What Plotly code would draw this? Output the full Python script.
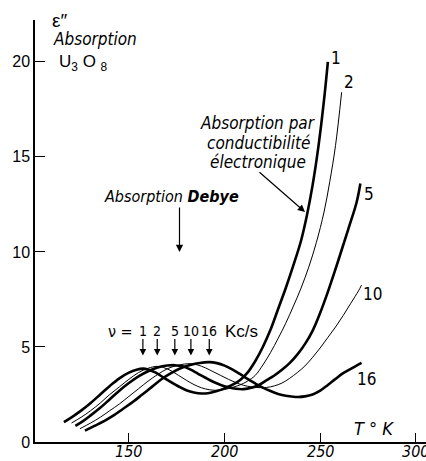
import plotly.graph_objects as go

# ---------------- data ----------------
T_1 = [116, 120, 125, 130, 135, 140, 145, 150, 154, 157.3, 160, 164, 168, 172, 176, 180, 184, 188, 192, 196,
       200, 204, 208, 212, 216, 220, 224, 228, 232, 236, 240, 243, 246, 249, 252, 254]
E_1 = [1.05, 1.3, 1.65, 2.05, 2.5, 2.95, 3.35, 3.65, 3.8, 3.86, 3.82, 3.65, 3.4, 3.15, 2.92, 2.72, 2.6, 2.55, 2.58, 2.68,
       2.82, 3.0, 3.25, 3.65, 4.25, 5.0, 5.9, 7.0, 8.1, 9.3, 10.6, 11.9, 13.5, 15.5, 18.0, 20.0]

T_2 = [120, 125, 130, 135, 140, 145, 150, 155, 160, 164.8, 168, 172, 176, 180, 184, 188, 192, 196, 200, 204,
       208, 212, 216, 220, 224, 228, 232, 236, 240, 244, 248, 252, 255, 258, 261.2]
E_2 = [1.0, 1.3, 1.65, 2.05, 2.5, 2.9, 3.3, 3.65, 3.88, 3.98, 3.92, 3.75, 3.5, 3.25, 3.02, 2.85, 2.75, 2.72, 2.76, 2.87,
       3.0, 3.2, 3.5, 4.05, 4.7, 5.45, 6.25, 7.15, 8.1, 9.2, 10.5, 12.1, 13.7, 15.6, 18.4]

T_5 = [122, 126, 130, 135, 140, 145, 150, 155, 160, 165, 170, 174, 178, 182, 186, 190, 194, 198, 202, 206,
       210, 214, 218, 222, 226, 230, 234, 238, 242, 246, 250, 254, 258, 261.2, 265, 269, 271]
E_5 = [0.85, 1.1, 1.4, 1.8, 2.25, 2.7, 3.1, 3.45, 3.72, 3.92, 4.02, 4.04, 3.98, 3.82, 3.6, 3.38, 3.17, 3.0, 2.88, 2.8,
       2.78, 2.85, 3.0, 3.25, 3.5, 3.8, 4.15, 4.6, 5.15, 5.85, 6.8, 7.9, 9.1, 10.1, 11.3, 12.6, 13.6]

T_10 = [124.4, 130, 135, 140, 145, 150, 155, 160, 165, 170, 175, 179, 182.4, 186, 190, 194, 198, 202, 206, 210,
        214, 218, 222, 226, 230, 234, 238, 242, 246, 250, 254, 258, 262, 266, 270, 271.6]
E_10 = [0.7, 1.0, 1.3, 1.65, 2.0, 2.4, 2.8, 3.2, 3.55, 3.85, 4.02, 4.1, 4.12, 4.05, 3.9, 3.7, 3.5, 3.3, 3.12, 2.98,
        2.9, 2.86, 2.87, 2.95, 3.1, 3.35, 3.65, 4.0, 4.45, 4.95, 5.5, 6.05, 6.65, 7.3, 7.95, 8.25]

T_16 = [127, 132, 137, 142, 147, 152, 157, 162, 167, 172, 177, 182, 187, 192, 196, 200, 204, 208, 212, 216,
        220, 224, 228, 232, 236, 238.5, 242, 246, 250, 254, 258, 262, 266, 269, 271.6]
E_16 = [0.6, 0.85, 1.1, 1.4, 1.75, 2.1, 2.5, 2.9, 3.3, 3.62, 3.88, 4.05, 4.16, 4.2, 4.15, 4.02, 3.82, 3.58, 3.32, 3.08,
        2.86, 2.68, 2.53, 2.43, 2.38, 2.37, 2.4, 2.5, 2.7, 3.0, 3.32, 3.62, 3.85, 4.02, 4.16]

FREQ_LABELS = ["1", "2", "5", "10", "16"]
PEAK_T = [157.3, 164.8, 174, 182.4, 192]
X_TICKS = [150, 200, 250, 300]
Y_TICKS = [0, 5, 10, 15, 20]

# ---------------- layout helpers ----------------
W, H = 426, 461
ML, MR, MT, MB = 35, 0, 20, 19
PW, PH = W - ML - MR, H - MT - MB
XR = [100.9, 305.3]
YR = [0, 22.2]


def px(x):
    return (x - ML) / PW


def py(y):
    return (H - MB - y) / PH


NARROW = "Liberation Sans Narrow, DejaVu Sans Condensed, Liberation Sans, sans-serif"
SANS = "Liberation Sans, DejaVu Sans, sans-serif"

fig = go.Figure()
series = [(T_1, E_1, 2.6), (T_2, E_2, 1.0), (T_5, E_5, 2.6), (T_10, E_10, 1.0), (T_16, E_16, 2.6)]
for (tx, ey, w) in series:
    fig.add_trace(go.Scatter(x=tx, y=ey, mode="lines",
                             line=dict(color="black", width=w, shape="spline", smoothing=1.0),
                             hoverinfo="skip", showlegend=False, cliponaxis=False))

ann = []


def text(x, y, s, size=17, family=NARROW, italic=False, xanchor="center", bold=False):
    ann.append(dict(x=px(x), y=py(y), xref="paper", yref="paper", text=s, showarrow=False,
                    xanchor=xanchor, yanchor="middle", borderpad=0,
                    font=dict(size=size, family=family, color="black",
                              style="italic" if italic else "normal",
                              weight="bold" if bold else "normal")))


# top-left title block
text(51, 21, "ε″", size=19, family=SANS, xanchor="left")
text(52, 39, "Absorption", size=17, italic=True, xanchor="left")
text(58, 63, "U<sub>3</sub> O <sub>8</sub>", size=17, family=SANS, xanchor="left")

# electronic conduction label
text(258, 123, "Absorption par", italic=True)
text(258, 143, "conductibilité", italic=True)
text(258, 162, "électronique", italic=True)
ann.append(dict(x=px(305), y=py(212), xref="paper", yref="paper", ax=258 - 305, ay=171 - 212,
                text="", showarrow=True, arrowhead=2,
                arrowsize=1.2, arrowwidth=1.2, arrowcolor="black"))

# Debye label
text(103, 196, "Absorption <b>Debye</b>", size=16, italic=True, xanchor="left")
ann.append(dict(x=px(179.5), y=py(252), xref="paper", yref="paper", ax=0, ay=-46,
                text="", showarrow=True, arrowhead=2, arrowsize=1.2, arrowwidth=1.2, arrowcolor="black"))

# frequency labels and arrows
text(107, 331, "ν =", size=16, family=NARROW, xanchor="left")
for lab, tp in zip(FREQ_LABELS, PEAK_T):
    ann.append(dict(x=tp, y=4.55, xref="x", yref="y", ax=0, ay=-18, text="", showarrow=True,
                    arrowhead=2, arrowsize=1.1, arrowwidth=1.2, arrowcolor="black"))
    ann.append(dict(x=tp, y=py(331), xref="x", yref="paper", text=lab, showarrow=False,
                    xanchor="center", yanchor="middle", borderpad=0,
                    font=dict(size=14, family=NARROW, color="black")))
text(224, 331, "Kc/s", size=17, family=SANS, xanchor="left")

# curve end labels
for lab, (x, y) in zip(FREQ_LABELS, [(335.5, 58), (349, 81.5), (369, 194), (372.5, 294), (366, 378.5)]):
    text(x, y, lab, size=17, family=NARROW)

# axis title
text(374, 428, "T ° K", size=18, italic=True)

# x tick labels (drawn as text just under the axis line)
for v in X_TICKS:
    ann.append(dict(x=v, y=py(452), xref="x", yref="paper", text=str(v), showarrow=False,
                    xanchor="center", yanchor="middle", borderpad=0,
                    font=dict(size=16, family=NARROW, color="black", style="italic")))

fig.update_layout(
    annotations=ann,
    width=W, height=H,
    margin=dict(l=ML, r=MR, t=MT, b=MB, pad=0, autoexpand=False),
    paper_bgcolor="white", plot_bgcolor="white",
    xaxis=dict(range=XR, tickvals=X_TICKS, ticks="inside", ticklen=9, tickwidth=1.3, tickcolor="black",
               showline=True, linecolor="black", linewidth=1.5, showgrid=False, zeroline=False,
               showticklabels=False, automargin=False),
    yaxis=dict(range=YR, tickvals=Y_TICKS, ticks="inside", ticklen=10, tickwidth=1.3, tickcolor="black",
               showline=True, linecolor="black", linewidth=1.5, showgrid=False, zeroline=False,
               automargin=False, ticklabelstandoff=0,
               tickfont=dict(size=16, family=SANS, color="black")),
)

fig.write_html("out.html", config={"displayModeBar": False},
               post_script="document.body.style.margin='0';document.body.style.overflow='hidden';")
